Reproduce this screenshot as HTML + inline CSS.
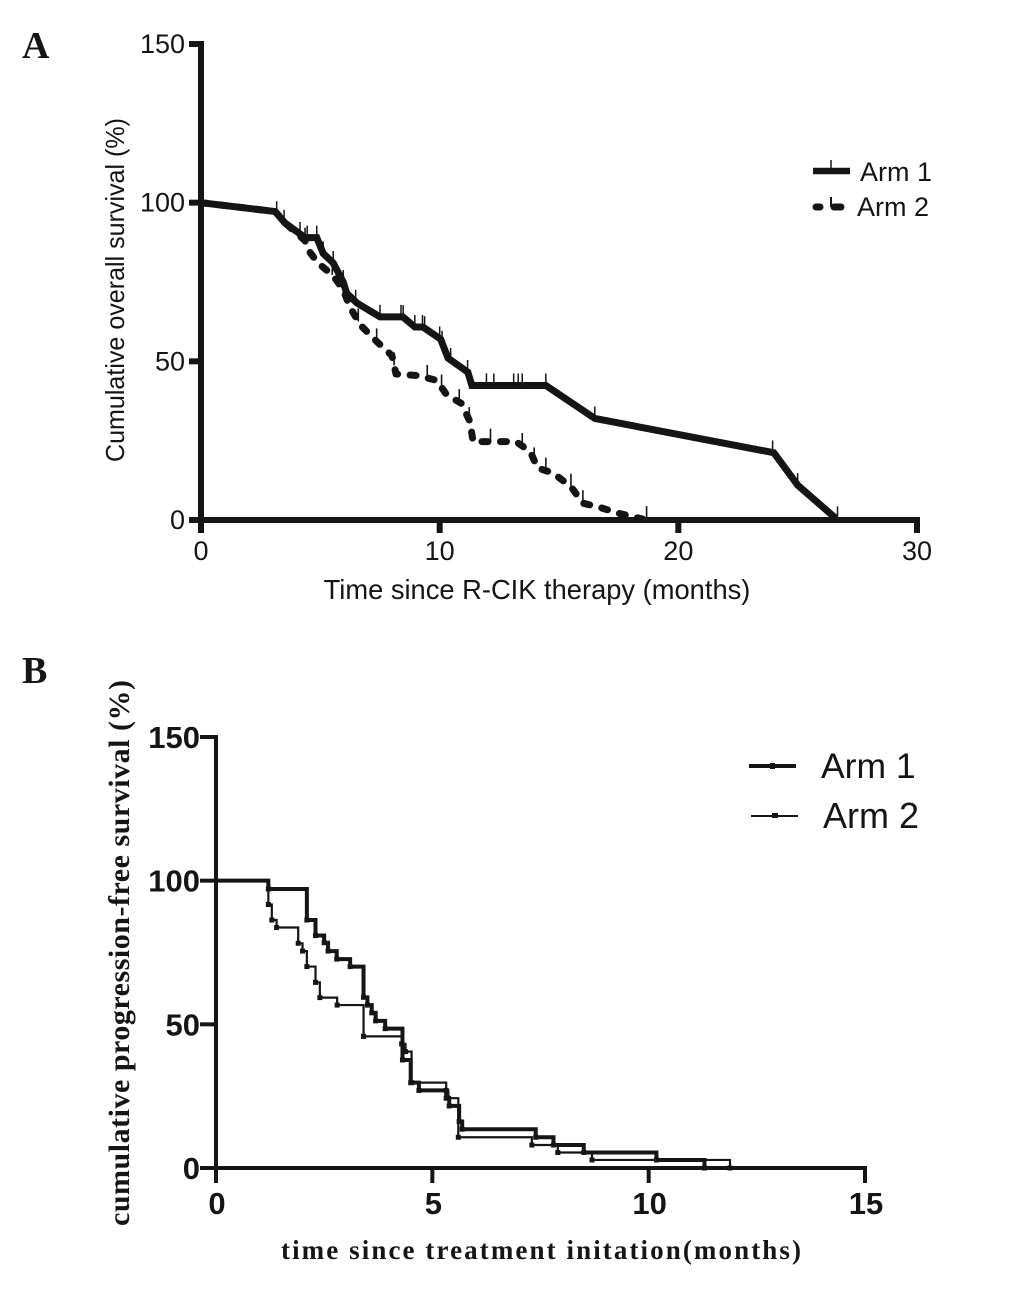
<!DOCTYPE html>
<html>
<head>
<meta charset="utf-8">
<title>Survival curves</title>
<style>
html,body{margin:0;padding:0;background:#fff;width:1033px;height:1296px;overflow:hidden}
svg{display:block;position:absolute;left:0;top:0}
text{fill:#151515}
.sans{font-family:"Liberation Sans",Arial,sans-serif}
.serif{font-family:"Liberation Serif","Times New Roman",serif}
</style>
</head>
<body>
<svg id="chart" width="1033" height="1296" viewBox="0 0 1033 1296" xmlns="http://www.w3.org/2000/svg">
  <text class="serif" x="22" y="58" font-size="38" font-weight="bold">A</text>
  <text class="serif" x="22" y="683" font-size="38" font-weight="bold">B</text>
  <text class="sans" font-size="26" text-anchor="middle" transform="translate(124,290) rotate(-90)" textLength="344" lengthAdjust="spacingAndGlyphs">Cumulative overall survival (%)</text>
  <text class="sans" font-size="27.3" text-anchor="middle" x="537" y="599">Time since R-CIK therapy (months)</text>
  <text class="serif" font-size="30" font-weight="bold" text-anchor="middle" transform="translate(129,953) rotate(-90)" textLength="546" lengthAdjust="spacing">cumulative progression-free survival (%)</text>
  <text class="serif" font-size="27" font-weight="bold" text-anchor="middle" x="541" y="1259" textLength="520" lengthAdjust="spacing">time since treatment initation(months)</text>
  <g>
    <line x1="813" x2="850" y1="171" y2="171" stroke="#151515" stroke-width="6.5"/>
    <line x1="831" x2="831" y1="160" y2="171" stroke="#151515" stroke-width="1.5"/>
    <text class="sans" x="860" y="181" font-size="27">Arm 1</text>
    <line x1="816" x2="820" y1="207" y2="207" stroke="#151515" stroke-width="7" stroke-linecap="round"/>
    <line x1="834" x2="841" y1="207" y2="207" stroke="#151515" stroke-width="7" stroke-linecap="round"/>
    <line x1="831" x2="831" y1="197" y2="207" stroke="#151515" stroke-width="2"/>
    <text class="sans" x="857" y="216" font-size="27">Arm 2</text>
  </g>
  <g>
    <line x1="749" x2="796" y1="766" y2="766" stroke="#151515" stroke-width="4"/>
    <rect x="770" y="763" width="5" height="6" fill="#151515"/>
    <text class="sans" x="821" y="778" font-size="35.5">Arm 1</text>
    <line x1="751" x2="798" y1="816" y2="816" stroke="#151515" stroke-width="2"/>
    <rect x="772" y="813" width="6" height="5" fill="#151515"/>
    <text class="sans" x="823" y="828" font-size="36">Arm 2</text>
  </g>
</svg>
<script>
// Panel A: overall survival
const aXTicks = [0, 10, 20, 30];
const aYTicks = [0, 50, 100, 150];
const aArm1Times = [0, 3.11, 3.52, 4.36, 4.85, 5.12, 5.54, 5.96, 6.1, 6.53, 7.5, 8.46, 8.96, 9.3, 10.04, 10.35, 11.18, 11.35, 14.45, 16.5, 24, 25, 26.6];
const aArm1Surv = [100, 97.2, 93.6, 89, 89, 84, 81, 75, 71.5, 68.4, 64, 64, 60.8, 60.8, 57, 51, 46.6, 42.4, 42.4, 32, 21.2, 11, 0.5];
const aArm2Times = [0, 3.11, 3.52, 4.36, 4.5, 4.9, 5.54, 5.96, 6.25, 6.67, 7.3, 8, 8.17, 9.1, 9.87, 10.3, 10.9, 11.27, 11.4, 13.2, 13.8, 14.1, 14.75, 15.5, 16, 16.7, 17.55, 18.5];
const aArm2Surv = [100, 97.2, 93.6, 88, 85, 81, 77, 72.5, 67, 61.5, 56.7, 51.8, 46, 45.5, 44, 39.4, 36.8, 31, 24.7, 24.7, 21.5, 16.4, 14.8, 10.5, 5.3, 4, 2, 0.3];
const aArm1Censored = [3.17, 3.48, 4.15, 4.45, 4.85, 5.12, 5.54, 5.96, 6.48, 7.5, 8.38, 8.47, 8.96, 9.28, 9.37, 10, 10.1, 10.46, 11.17, 11.96, 12.27, 13.1, 13.29, 13.46, 14.45, 16.5, 23.95, 25, 26.67];
const aArm2Censored = [4.36, 5.5, 5.9, 6.59, 7.36, 8.09, 9.48, 10.08, 10.82, 11.24, 12.13, 13.46, 13.96, 14.45, 15.5, 16, 18.67];

// Panel B: progression-free survival
const bXTicks = [0, 5, 10, 15];
const bYTicks = [0, 50, 100, 150];
const bArm1Times = [0, 1.21, 2.1, 2.3, 2.5, 2.59, 2.79, 3.1, 3.41, 3.5, 3.6, 3.69, 3.91, 4.31, 4.5, 4.69, 5.32, 5.39, 5.62, 5.69, 7.39, 7.8, 8.5, 10.18, 11.29];
const bArm1Surv = [100, 97.1, 86.3, 80.9, 78.4, 75.5, 72.7, 70.1, 59.4, 56.7, 54, 51.2, 48.5, 37.6, 29.7, 27, 24.3, 21.6, 16.2, 13.5, 10.7, 8, 5.4, 2.8, 0];
const bArm2Times = [0, 1.21, 1.29, 1.4, 1.9, 2, 2.1, 2.3, 2.4, 2.8, 3.41, 4.29, 4.38, 4.52, 5.32, 5.37, 5.6, 7.3, 7.9, 8.69, 11.88];
const bArm2Surv = [100, 91.7, 86.3, 83.7, 78.2, 75.5, 70.1, 64.6, 59.3, 56.7, 45.8, 43.2, 40.5, 29.7, 27, 24.3, 10.7, 8, 5.4, 2.8, 0];

const svg = document.getElementById('chart');
const NS = 'http://www.w3.org/2000/svg';
const INK = '#151515';

function make(tag, attrs, parent) {
  const el = document.createElementNS(NS, tag);
  for (const k in attrs) el.setAttribute(k, attrs[k]);
  parent.appendChild(el);
  return el;
}

// axis functions
const aX = t => 201 + t * (917 - 201) / 30;
const aY = s => 520 - s * (520 - 44) / 150;
const bX = t => 216 + t * (865 - 216) / 15;
const bY = s => 1168 - s * (1168 - 737) / 150;

function curveAt(times, surv, t) {
  for (let i = 1; i < times.length; i++) {
    if (t <= times[i]) {
      const f = (t - times[i - 1]) / (times[i] - times[i - 1]);
      return surv[i - 1] + f * (surv[i] - surv[i - 1]);
    }
  }
  return surv[surv.length - 1];
}

// ----- Panel A -----
const gA = make('g', {}, svg);



const a2Line = make('polyline', {
  points: aArm2Times.map((t, i) => aX(t) + ',' + aY(aArm2Surv[i])).join(' '),
  fill: 'none', stroke: INK, 'stroke-width': 7, 'stroke-linecap': 'round', 'stroke-linejoin': 'round', 'stroke-dasharray': '6 12.5'
}, gA);



aArm2Censored.forEach(t => {
  const y = aY(curveAt(aArm2Times, aArm2Surv, t));
  const c = make('line', { x1: aX(t), x2: aX(t), y1: y - 13, y2: y, stroke: INK, 'stroke-width': 1.6 }, gA);
  
  
});

const a1Line = make('polyline', {
  points: aArm1Times.map((t, i) => aX(t) + ',' + aY(aArm1Surv[i])).join(' '),
  fill: 'none', stroke: INK, 'stroke-width': 7, 'stroke-linejoin': 'miter'
}, gA);



aArm1Censored.forEach(t => {
  const y = aY(curveAt(aArm1Times, aArm1Surv, t));
  const c = make('line', { x1: aX(t), x2: aX(t), y1: y - 12, y2: y, stroke: INK, 'stroke-width': 1.5 }, gA);
  
  
});

const aYAxis = make('line', { x1: aX(0), x2: aX(0), y1: aY(150) - 3, y2: aY(0) + 3, stroke: INK, 'stroke-width': 6 }, gA);


const aXAxis = make('line', { x1: aX(0), x2: aX(30) + 3, y1: aY(0), y2: aY(0), stroke: INK, 'stroke-width': 6 }, gA);



aXTicks.forEach(v => {
  const tk = make('line', { x1: aX(v), x2: aX(v), y1: aY(0), y2: aY(0) + 13, stroke: INK, 'stroke-width': 6 }, gA);
  
  
  const lb = make('text', { x: aX(v), y: 560, 'font-size': 27, 'text-anchor': 'middle', class: 'sans' }, gA);
  
  
  lb.textContent = v;
});
aYTicks.forEach(v => {
  const tk = make('line', { x1: aX(0) - 12, x2: aX(0), y1: aY(v), y2: aY(v), stroke: INK, 'stroke-width': 6 }, gA);
  
  
  const lb = make('text', { x: 185, y: aY(v) + 9, 'font-size': 27, 'text-anchor': 'end', class: 'sans' }, gA);
  
  
  lb.textContent = v;
});

// ----- Panel B -----
const gB = make('g', {}, svg);



function stepPoints(times, surv) {
  const pts = [bX(times[0]) + ',' + bY(surv[0])];
  for (let i = 1; i < times.length; i++) {
    pts.push(bX(times[i]) + ',' + bY(surv[i - 1]));
    pts.push(bX(times[i]) + ',' + bY(surv[i]));
  }
  return pts.join(' ');
}

const b2Line = make('polyline', { points: stepPoints(bArm2Times, bArm2Surv), fill: 'none', stroke: INK, 'stroke-width': 2.2 }, gB);


bArm2Times.slice(1).forEach((t, i) => {
  const m = make('rect', { x: bX(t) - 2.5, y: bY(bArm2Surv[i + 1]) - 2.5, width: 5, height: 5, fill: INK }, gB);
  
  
});

const b1Line = make('polyline', { points: stepPoints(bArm1Times, bArm1Surv), fill: 'none', stroke: INK, 'stroke-width': 4 }, gB);


bArm1Times.slice(1).forEach((t, i) => {
  const m = make('rect', { x: bX(t) - 2.5, y: bY(bArm1Surv[i + 1]) - 2.5, width: 5, height: 5, fill: INK }, gB);
  
  
});

const bYAxis = make('line', { x1: bX(0), x2: bX(0), y1: bY(150) - 2, y2: bY(0) + 2, stroke: INK, 'stroke-width': 4 }, gB);


const bXAxis = make('line', { x1: bX(0), x2: bX(15) + 2, y1: bY(0), y2: bY(0), stroke: INK, 'stroke-width': 4 }, gB);



bXTicks.forEach(v => {
  const tk = make('line', { x1: bX(v), x2: bX(v), y1: bY(0), y2: bY(0) + 15, stroke: INK, 'stroke-width': 4 }, gB);
  
  
  const lb = make('text', { x: bX(v) + 1, y: 1214, 'font-size': 31, 'font-weight': 'bold', 'text-anchor': 'middle', class: 'sans' }, gB);
  
  
  lb.textContent = v;
});
bYTicks.forEach(v => {
  const tk = make('line', { x1: bX(0) - 16, x2: bX(0), y1: bY(v), y2: bY(v), stroke: INK, 'stroke-width': 4 }, gB);
  
  
  const lb = make('text', { x: 200, y: bY(v) + 11, 'font-size': 31, 'font-weight': 'bold', 'text-anchor': 'end', class: 'sans' }, gB);
  
  
  lb.textContent = v;
});
</script>
</body>
</html>
